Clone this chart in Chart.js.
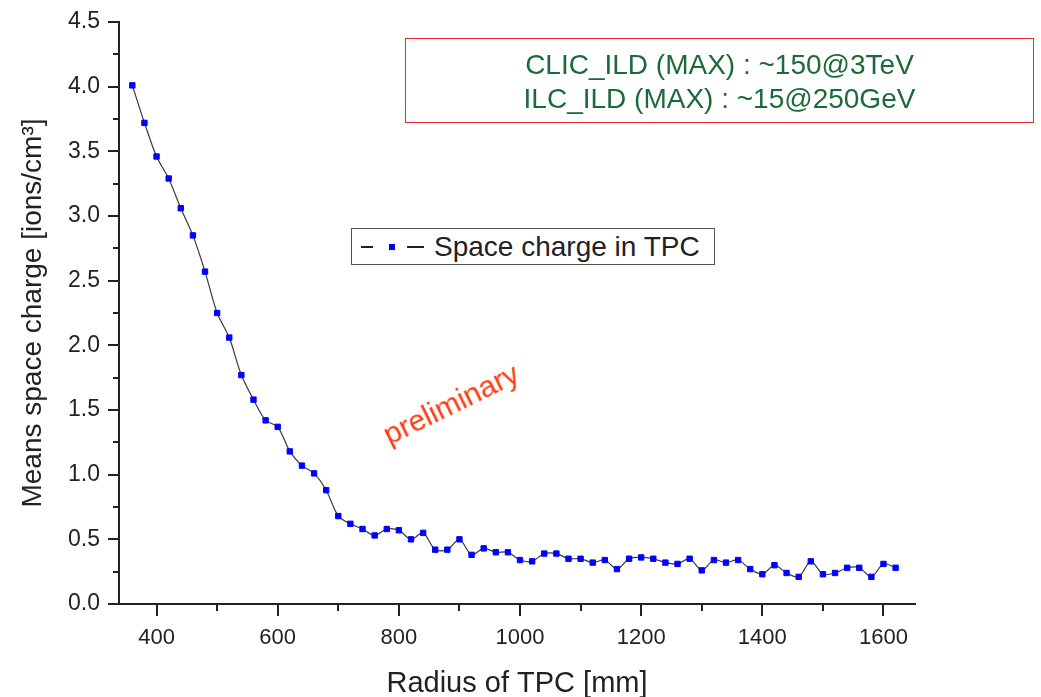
<!DOCTYPE html>
<html>
<head>
<meta charset="utf-8">
<title>Space charge in TPC</title>
<script src="https://cdn.jsdelivr.net/npm/chart.js@4.4.0/dist/chart.umd.min.js"></script>
<style>
  body { margin: 0; background: #fff; }
  #wrap { position: relative; width: 1041px; height: 697px; font-family: "Liberation Sans", Arial, sans-serif; }
  #chart { position: absolute; left: 0; top: 0; }
  #infoBox {
    position: absolute; left: 405px; top: 38px; width: 629px; height: 85px;
    border: 1.5px solid #e8262b; box-sizing: border-box;
    color: #1b6b3a; font-size: 28px; line-height: 34px; text-align: center;
    padding-top: 9px;
  }
  #legendBox {
    position: absolute; left: 351px; top: 228px; width: 364px; height: 37px;
    border: 1px solid #555; box-sizing: border-box; background: #fff;
    font-size: 28px; color: #222; white-space: nowrap;
  }
  #legendBox span { position: absolute; }
  .dash { height: 1.5px; background: #222; top: 17px; }
  .sq { width: 6px; height: 6px; background: #0000ff; top: 15px; }
  #legendLabel { left: 82px; top: 1px; line-height: 34px; }
  #prelim {
    position: absolute; left: 451px; top: 404px; color: #ff3a10; font-size: 30px;
    transform: translate(-50%, -50%) rotate(-26deg); white-space: nowrap;
  }
</style>
</head>
<body>
<div id="wrap">
  <canvas id="chart" width="1041" height="697"></canvas>
  <div id="infoBox">
    <div>CLIC_ILD (MAX) : ~150@3TeV</div>
    <div>ILC_ILD (MAX) : ~15@250GeV</div>
  </div>
  <div id="legendBox">
    <span class="dash" style="left:9px;width:12px"></span>
    <span class="sq" style="left:37px"></span>
    <span class="dash" style="left:55px;width:17px"></span>
    <span id="legendLabel"></span>
  </div>
  <div id="prelim">preliminary</div>
</div>
<script>
// radius of TPC [mm]
const radius = [
  360, 380, 400, 420, 440, 460, 480, 500, 520, 540,
  560, 580, 600, 620, 640, 660, 680, 700, 720, 740,
  760, 780, 800, 820, 840, 860, 880, 900, 920, 940,
  960, 980, 1000, 1020, 1040, 1060, 1080, 1100, 1120, 1140,
  1160, 1180, 1200, 1220, 1240, 1260, 1280, 1300, 1320, 1340,
  1360, 1380, 1400, 1420, 1440, 1460, 1480, 1500, 1520, 1540,
  1560, 1580, 1600, 1620
];
// mean space charge [ions/cm3]
const spaceCharge = [
  4.01, 3.72, 3.46, 3.29, 3.06, 2.85, 2.57, 2.25, 2.06, 1.77,
  1.58, 1.42, 1.37, 1.18, 1.07, 1.01, 0.88, 0.68, 0.62, 0.58,
  0.53, 0.58, 0.57, 0.50, 0.55, 0.42, 0.42, 0.50, 0.38, 0.43,
  0.40, 0.40, 0.34, 0.33, 0.39, 0.39, 0.35, 0.35, 0.32, 0.34,
  0.27, 0.35, 0.36, 0.35, 0.32, 0.31, 0.35, 0.26, 0.34, 0.32,
  0.34, 0.27, 0.23, 0.30, 0.24, 0.21, 0.33, 0.23, 0.24, 0.28,
  0.28, 0.21, 0.31, 0.28
];
const seriesLabel = "Space charge in TPC";

const xTicks = [400, 600, 800, 1000, 1200, 1400, 1600];
const xMinorTicks = [500, 700, 900, 1100, 1300, 1500];
const yTicks = [0, 0.5, 1.0, 1.5, 2.0, 2.5, 3.0, 3.5, 4.0, 4.5];
const yMinorTicks = [0.25, 0.75, 1.25, 1.75, 2.25, 2.75, 3.25, 3.75, 4.25];

const axisColor = "#222";
const fontFamily = '"Liberation Sans", Arial, sans-serif';

// small ticks between the labelled ones
const minorTicks = {
  id: "minorTicks",
  afterDraw(chart) {
    const { ctx } = chart;
    const x = chart.scales.x;
    const y = chart.scales.y;
    ctx.save();
    ctx.strokeStyle = axisColor;
    ctx.lineWidth = 2;
    ctx.beginPath();
    xMinorTicks.forEach((v) => {
      const px = Math.round(x.getPixelForValue(v));
      ctx.moveTo(px, x.top);
      ctx.lineTo(px, x.top + 7);
    });
    yMinorTicks.forEach((v) => {
      const py = Math.round(y.getPixelForValue(v));
      ctx.moveTo(y.right, py);
      ctx.lineTo(y.right - 6, py);
    });
    ctx.stroke();
    ctx.restore();
  },
};

window.onload = function () {
  document.getElementById("legendLabel").textContent = seriesLabel;

  const ctx = document.getElementById("chart").getContext("2d");
  const points = radius.map((r, i) => ({ x: r, y: spaceCharge[i] }));

  new Chart(ctx, {
    type: "line",
    data: {
      datasets: [
        {
          label: seriesLabel,
          data: points,
          borderColor: "#3a3a3a",
          borderWidth: 1.2,
          tension: 0.3,
          fill: false,
          pointStyle: "rect",
          pointRadius: 3.8,
          pointBackgroundColor: "#0000ff",
          pointBorderColor: "#0000ff",
          pointBorderWidth: 1,
        },
      ],
    },
    options: {
      responsive: false,
      animation: false,
      layout: { padding: { top: 22, right: 126, bottom: 0, left: 0 } },
      plugins: {
        legend: { display: false },
        tooltip: { enabled: false },
      },
      scales: {
        x: {
          type: "linear",
          min: 338,
          max: 1652,
          afterBuildTicks: (s) => { s.ticks = xTicks.map((v) => ({ value: v })); },
          afterFit: (s) => { s.height = 93; },
          border: { color: axisColor, width: 2 },
          grid: { drawOnChartArea: false, tickLength: 12, color: axisColor, lineWidth: 2 },
          ticks: {
            color: axisColor,
            padding: 9,
            maxRotation: 0,
            font: { family: fontFamily, size: 22 },
            callback: (v) => String(v),
          },
          title: {
            display: true,
            text: "Radius of TPC [mm]",
            color: axisColor,
            padding: 0,
            font: { family: fontFamily, size: 29, lineHeight: 0.9 },
          },
        },
        y: {
          min: 0,
          max: 4.5,
          afterBuildTicks: (s) => { s.ticks = yTicks.map((v) => ({ value: v })); },
          afterFit: (s) => { s.width = 119; },
          border: { color: axisColor, width: 2 },
          grid: { drawOnChartArea: false, tickLength: 11, color: axisColor, lineWidth: 2 },
          ticks: {
            color: axisColor,
            padding: 8,
            font: { family: fontFamily, size: 23 },
            callback: (v) => v.toFixed(1),
          },
          title: {
            display: true,
            text: "Means space charge [ions/cm³]",
            color: axisColor,
            padding: { top: 16, bottom: 0 },
            font: { family: fontFamily, size: 28, lineHeight: 1.2 },
          },
        },
      },
    },
    plugins: [minorTicks],
  });
};
</script>
</body>
</html>
